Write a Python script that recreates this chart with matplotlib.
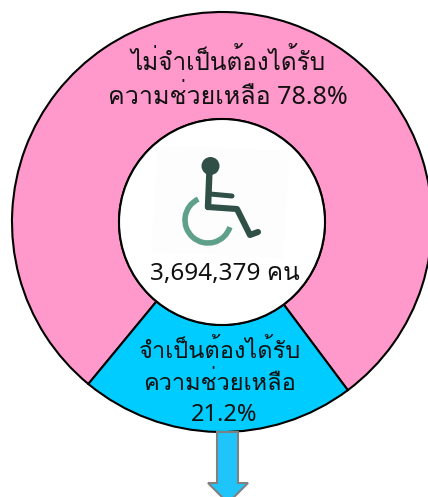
import matplotlib
matplotlib.use('Agg')
import matplotlib.pyplot as plt
from matplotlib.patches import Circle, Arc, Polygon

W, H = 428, 497
shares = [78.8, 21.2]
colors = ['#FF99CC', '#00CCFF']
top_lines = ['ไม่จำเป็นต้องได้รับ', 'ความช่วยเหลือ 78.8%']
bottom_lines = ['จำเป็นต้องได้รับ', 'ความช่วยเหลือ', '21.2%']
total_label = '3,694,379 คน'
FONT = ['Noto Sans', 'Loma', 'Noto Sans Thai', 'DejaVu Sans']

def Y(py):
    return H - py

fig = plt.figure(figsize=(W / 100, H / 100), dpi=100, facecolor='white')
ax = fig.add_axes([0, 0, 1, 1])

cx, cy, R, r = 222, 222, 210, 103
ax.pie(shares, colors=colors, startangle=-53.2, center=(cx, Y(cy)), radius=R,
       counterclock=True, frame=False,
       wedgeprops=dict(width=R - r, edgecolor='black', linewidth=1.5))
ax.add_patch(Circle((cx, Y(cy)), r, facecolor='white', edgecolor='black', lw=1.5, zorder=2))

# faint icon backdrop
ax.add_patch(Polygon([(158, Y(146)), (290, Y(150)), (283, Y(258)), (151, Y(252))],
                     closed=True, facecolor='#FDFDFD', edgecolor='none', zorder=2.1))

# wheelchair icon
dark = '#2F4F47'
green = '#5FA08A'
ax.add_patch(Arc((208, Y(220)), 46, 46, theta1=115, theta2=342, color=green, lw=4, zorder=3))
ax.add_patch(Circle((210.5, Y(166)), 9, facecolor=dark, edgecolor='none', zorder=4))
ax.plot([209.5, 208], [Y(170), Y(207)], color=dark, lw=4.6, solid_capstyle='round', zorder=4)
ax.plot([210, 232], [Y(194), Y(196)], color=dark, lw=3.6, solid_capstyle='round', zorder=4)
ax.plot([208, 237, 250, 258], [Y(207), Y(209), Y(235), Y(232)], color=dark, lw=4.4,
        solid_capstyle='round', solid_joinstyle='round', zorder=4)

# arrow
ax.add_patch(Polygon([(217, Y(432)), (238, Y(432)), (238, Y(483)), (248, Y(483)),
                      (228, Y(503)), (208, Y(483)), (217, Y(483))],
                     closed=True, facecolor='#1FC4FA', edgecolor='#808080', lw=1.5, zorder=1))

ts = dict(family=FONT, ha='center', va='center', color='#111111', zorder=5)
ax.text(228, Y(62), top_lines[0], fontsize=17.5, **ts)
ax.text(228, Y(97), top_lines[1], fontsize=18, **ts)
ax.text(220, Y(352), bottom_lines[0], fontsize=17, **ts)
ax.text(220, Y(384), bottom_lines[1], fontsize=17, **ts)
ax.text(224, Y(415), bottom_lines[2], fontsize=17, **ts)
ax.text(225, Y(274), total_label, fontsize=17.5, **ts)

ax.set_aspect('auto')
ax.set_xlim(0, W)
ax.set_ylim(0, H)
ax.axis('off')
fig.savefig('out.png', dpi=100)
